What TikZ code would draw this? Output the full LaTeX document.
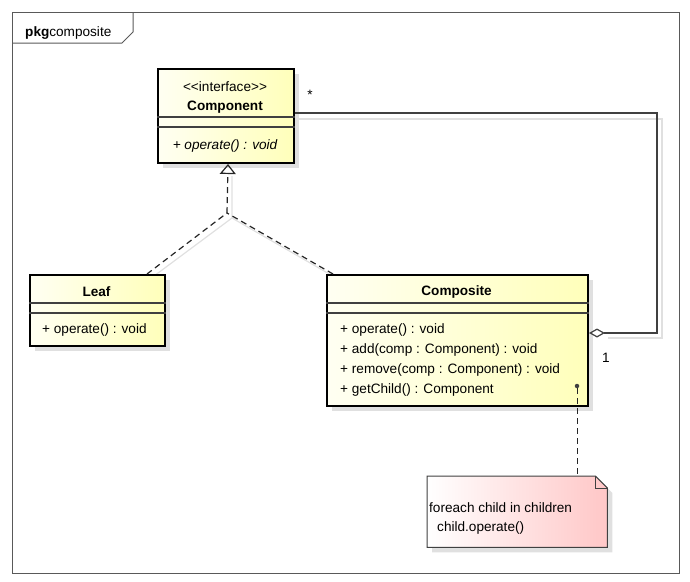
\documentclass[tikz,border=0pt]{standalone}
\usepackage{fontspec}
\setmainfont{Liberation Sans}
\usetikzlibrary{arrows.meta,calc,shadows}
\tikzset{
  frame/.style={draw=black!65, line width=1pt},
  classbox/.style={draw=black, line width=2pt, rectangle, inner sep=0pt, anchor=north west,
    left color=yellow!5, right color=yellow!27,
    drop shadow={shadow xshift=5pt, shadow yshift=-5pt, opacity=1, fill=black!12}},
  sep/.style={draw=black!75, line width=1.3pt},
  txt/.style={inner sep=0pt, anchor=base},
  txtl/.style={inner sep=0pt, anchor=base west},
  realdash/.style={draw=black!85, line width=1.2pt, dash pattern=on 6pt off 4pt},
  shadowline/.style={draw=black!12, line width=1.2pt},
  assoc/.style={draw=black!75, line width=1.2pt}
}
\begin{document}
\begin{tikzpicture}[x=1pt,y=-1pt, font=\fontsize{13.6}{16}\selectfont]
\useasboundingbox (0,0) rectangle (690,581);
% package frame
\draw[frame] (12,12) rectangle (679,573);
\draw[frame] (12,43) -- (122,43) -- (133,32) -- (133,12);
\node[txtl] (pkg) at (25,36) {\textbf{pkg}composite};

% connector shadows
\draw[shadowline] (298,119) -- (662,119) -- (662,338) -- (608,338);
\draw[shadowline] (232,176) -- (232,218) -- (338,279);
\draw[shadowline] (232,218) -- (150,279);

% Component
\node[classbox, minimum width=136pt, minimum height=94pt] (comp) at (157,68) {};
\draw[sep] (comp.west |- 0,117) -- (comp.east |- 0,117);
\draw[sep] (comp.west |- 0,127) -- (comp.east |- 0,127);
\node[txt] (compSt) at (225,91.5) {<\kern0pt<interface>\kern0pt>};
\node[txt] (compName) at (225,110) {\textbf{Component}};
\node[txt] (compOp) at (225,149) {\itshape + operate() : void};

% Leaf
\node[classbox, minimum width=135pt, minimum height=71pt] (leaf) at (29,274) {};
\draw[sep] (leaf.west |- 0,303) -- (leaf.east |- 0,303);
\draw[sep] (leaf.west |- 0,313) -- (leaf.east |- 0,313);
\node[txt] (leafName) at (96.5,296) {\textbf{Leaf}};
\node[txtl] (leafOp) at (42,333) {+ operate() : void};

% Composite
\node[classbox, minimum width=261pt, minimum height=131pt] (compo) at (326,274) {};
\draw[sep] (compo.west |- 0,303) -- (compo.east |- 0,303);
\draw[sep] (compo.west |- 0,313) -- (compo.east |- 0,313);
\node[txt] (compoName) at (456.5,295) {\textbf{Composite}};
\node[txtl] (op1) at (340,333) {+ operate() : void};
\node[txtl] (op2) at (340,353) {+ add(comp : Component) : void};
\node[txtl] (op3) at (340,373.5) {+ remove(comp : Component) : void};
\node[txtl] (op4) at (340,393.5) {+ getChild() : Component};

% generalization
\coordinate (joint) at (227,213);
\draw[realdash] ($(leaf.north east)+(-19,0)$) -- (joint);
\draw[realdash] ($(compo.north west)+(7,0)$) -- (joint);
\draw[realdash, -{Triangle[open, length=10pt, width=16pt, line width=1.2pt]}] (joint) -- ($(comp.south)+(2,0)$);

% aggregation
\draw[assoc, {Diamond[open, length=16pt, width=9pt, line width=1.2pt]}-]
  ($(compo.north east)+(0,59)$) -- (657,333) -- (657,113) -- ($(comp.north east)+(0,45)$);
\node[txt] (multStar) at (310,99) {*};
\node[txt] (multOne) at (606,362) {1};

% note
\node[minimum width=180pt, minimum height=71pt, anchor=north west, inner sep=0pt] (note) at (427,476) {};
\fill[black!12] ($(note.north west)+(5,5)$) -- ($(note.north east)+(-7,5)$) -- ($(note.north east)+(5,17)$) -- ($(note.south east)+(5,5)$) -- ($(note.south west)+(5,5)$) -- cycle;
\shade[left color=white, right color=red!22] (note.north west) -- ($(note.north east)+(-12,0)$) -- ($(note.north east)+(0,12)$) -- (note.south east) -- (note.south west) -- cycle;
\draw[draw=black!75, line width=1pt] (note.north west) -- ($(note.north east)+(-12,0)$) -- ($(note.north east)+(0,12)$) -- (note.south east) -- (note.south west) -- cycle;
\draw[draw=black!75, line width=1pt] ($(note.north east)+(-12,0)$) -- ($(note.north east)+(-12,12)$) -- ($(note.north east)+(0,12)$);
\node[txtl] (noteL1) at (429,512.5) {foreach child in children};
\node[txtl] (noteL2) at (437,531.5) {child.operate()};

% note anchor
\node[circle, fill=black!75, minimum size=4.5pt, inner sep=0pt] (dot) at (577,386) {};
\draw[realdash, line width=1pt] (dot) -- (dot |- note.north);
\end{tikzpicture}
\end{document}
